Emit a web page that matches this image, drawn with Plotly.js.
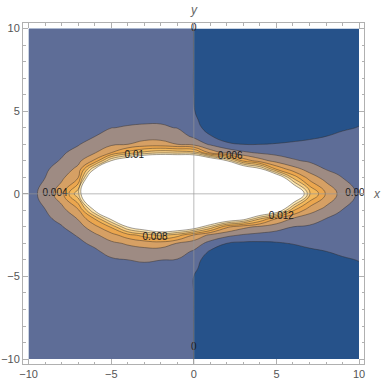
<!DOCTYPE html>
<html>
<head>
<meta charset="utf-8">
<script src="https://cdn.plot.ly/plotly-3.0.1.min.js"></script>
<style>
  html, body { margin: 0; padding: 0; background: #fff; }
  #chart { width: 382px; height: 381px; }
</style>
</head>
<body>
<div id="chart"></div>
<script>
// grid
var xVals = [-10, -9, -8, -7, -6, -5, -4, -3, -2, -1, 0, 1, 2, 3, 4, 5, 6, 7, 8, 9, 10];
var yVals = [-10, -8, -6, -5, -4.5, -4, -3.5, -3, -2.5, -2, -1.5, -1, 0, 1, 1.5, 2, 2.5, 3, 3.5, 4, 4.5, 5, 6, 8, 10];

// one row per y value, one entry per x value
var zVals = [
  [0.0005, 0.0005, 0.0005, 0.0005, 0.0005, 0.0005, 0.0005, 0.0005, 0.0005, 0.0005, -0.00001, -0.0015, -0.0015, -0.0015, -0.0015, -0.0015, -0.0015, -0.0015, -0.0015, -0.0015, -0.0015],
  [0.0006, 0.0005, 0.0005, 0.0005, 0.0005, 0.0005, 0.0005, 0.0005, 0.0005, 0.0005, -0.00001, -0.0015, -0.0015, -0.0015, -0.0015, -0.0015, -0.0015, -0.0015, -0.0015, -0.0015, -0.0015],
  [0.0007, 0.0006, 0.0006, 0.0006, 0.0006, 0.00062, 0.0008, 0.00083, 0.0008, 0.00071, -0.00001, -0.0015, -0.0015, -0.0015, -0.0015, -0.0015, -0.0015, -0.0015, -0.0015, -0.0015, -0.0008],
  [0.00075, 0.0006, 0.0006, 0.0006, 0.00086, 0.00122, 0.0014, 0.00143, 0.0014, 0.00131, -0.00001, -0.0015, -0.0015, -0.0015, -0.0015, -0.0015, -0.0015, -0.0015, -0.0015, -0.0008, -0.0004],
  [0.0008, 0.0006, 0.0006, 0.00083, 0.00116, 0.00152, 0.0017, 0.00173, 0.0017, 0.00161, 0.0005, -0.0015, -0.0015, -0.0015, -0.0015, -0.0015, -0.0015, -0.0015, -0.001, -0.0005, -0.00017],
  [0.00085, 0.0006, 0.00068, 0.00113, 0.00146, 0.00182, 0.00199, 0.00211, 0.00201, 0.00191, 0.00113, -0.0015, -0.0015, -0.0015, -0.0015, -0.0015, -0.0015, -0.001, -0.0005, -0.00014, 0.00004],
  [0.0009, 0.0006, 0.00098, 0.00143, 0.00176, 0.00244, 0.00305, 0.00322, 0.00318, 0.00278, 0.00175, -0.0003, -0.0015, -0.0015, -0.0015, -0.0015, -0.0009, -0.0003, -0.00002, 0.0002, 0.00025],
  [0.00095, 0.00074, 0.00128, 0.00173, 0.00227, 0.00356, 0.00424, 0.00479, 0.00494, 0.00389, 0.003, 0.00133, -0.00002, -0.0004, -0.0004, -0.0002, 0.0001, 0.0004, 0.0005, 0.00055, 0.00046],
  [0.001, 0.00104, 0.00158, 0.0021, 0.0036, 0.0052, 0.00713, 0.0088, 0.01046, 0.0089, 0.00582, 0.0035, 0.0025, 0.00178, 0.00145, 0.0012, 0.00105, 0.00107, 0.001, 0.0009, 0.00066],
  [0.00105, 0.00134, 0.00188, 0.0031, 0.0053, 0.00825, 0.0141, 0.017, 0.0193, 0.0185, 0.0163, 0.01156, 0.0064, 0.00456, 0.00356, 0.0028, 0.00199, 0.00173, 0.0015, 0.00124, 0.00087],
  [0.0011, 0.00164, 0.0025, 0.00414, 0.00813, 0.0148, 0.0215, 0.0245, 0.0268, 0.026, 0.0238, 0.0208, 0.0178, 0.0155, 0.01029, 0.00602, 0.00382, 0.003, 0.00199, 0.00159, 0.00108],
  [0.00115, 0.00194, 0.00333, 0.00557, 0.0142, 0.0223, 0.029, 0.03, 0.03, 0.03, 0.03, 0.0283, 0.0253, 0.023, 0.02, 0.017, 0.00829, 0.00469, 0.00333, 0.00193, 0.00129],
  [0.0012, 0.0027, 0.0052, 0.0115, 0.026, 0.03, 0.03, 0.03, 0.03, 0.03, 0.03, 0.03, 0.03, 0.03, 0.03, 0.03, 0.021, 0.0107, 0.0058, 0.0031, 0.0017],
  [0.00115, 0.00198, 0.00357, 0.00583, 0.0215, 0.029, 0.029, 0.03, 0.03, 0.03, 0.03, 0.03, 0.029, 0.026, 0.0223, 0.0178, 0.00928, 0.00496, 0.00323, 0.00196, 0.00129],
  [0.0011, 0.0017, 0.00286, 0.00452, 0.0141, 0.0215, 0.0253, 0.0268, 0.0275, 0.0275, 0.0275, 0.0245, 0.0215, 0.0185, 0.0148, 0.00766, 0.00483, 0.0032, 0.0019, 0.00161, 0.00108],
  [0.00105, 0.0014, 0.00214, 0.00345, 0.0064, 0.0141, 0.0178, 0.021, 0.022, 0.022, 0.022, 0.019, 0.0141, 0.00742, 0.00491, 0.00325, 0.00225, 0.00173, 0.00143, 0.00126, 0.00087],
  [0.001, 0.0011, 0.00176, 0.00255, 0.0038, 0.00588, 0.00859, 0.0105, 0.0115, 0.0112, 0.0108, 0.00525, 0.00333, 0.00233, 0.00167, 0.00138, 0.00118, 0.00107, 0.00095, 0.00091, 0.00066],
  [0.00095, 0.0008, 0.00146, 0.00188, 0.0028, 0.00365, 0.00398, 0.00467, 0.00472, 0.00399, 0.00333, 0.00169, 0.0005, -0.00002, -0.00002, 0.000125, 0.00027, 0.0004, 0.00048, 0.00056, 0.00046],
  [0.0009, 0.0006, 0.00116, 0.00158, 0.00194, 0.00278, 0.00305, 0.0032, 0.0032, 0.00289, 0.0016, 0.00015, -0.0015, -0.0015, -0.0015, -0.0011, -0.0006, -0.0003, -0.00002, 0.00021, 0.00025],
  [0.00085, 0.0006, 0.00086, 0.00128, 0.00164, 0.00197, 0.0021, 0.0022, 0.0022, 0.00194, 0.0013, -0.0014, -0.0015, -0.0015, -0.0015, -0.0015, -0.0015, -0.001, -0.0005, -0.00014, 0.00004],
  [0.0008, 0.0006, 0.0006, 0.00098, 0.00134, 0.00167, 0.00173, 0.00176, 0.00176, 0.00164, 0.0005, -0.0015, -0.0015, -0.0015, -0.0015, -0.0015, -0.0015, -0.0015, -0.001, -0.0005, -0.00017],
  [0.00075, 0.0006, 0.0006, 0.00068, 0.00104, 0.00137, 0.00143, 0.00146, 0.00146, 0.00134, 0.0001, -0.0015, -0.0015, -0.0015, -0.0015, -0.0015, -0.0015, -0.0015, -0.0015, -0.0008, -0.0004],
  [0.0007, 0.0006, 0.0006, 0.0006, 0.0006, 0.00077, 0.00083, 0.00086, 0.00086, 0.00074, -0.00001, -0.0015, -0.0015, -0.0015, -0.0015, -0.0015, -0.0015, -0.0015, -0.0015, -0.0015, -0.0008],
  [0.0006, 0.0005, 0.0005, 0.0005, 0.0005, 0.0005, 0.0005, 0.0005, 0.0005, 0.0005, -0.00001, -0.0015, -0.0015, -0.0015, -0.0015, -0.0015, -0.0015, -0.0015, -0.0015, -0.0015, -0.0015],
  [0.0005, 0.0005, 0.0005, 0.0005, 0.0005, 0.0005, 0.0005, 0.0005, 0.0005, 0.0005, -0.00001, -0.0015, -0.0015, -0.0015, -0.0015, -0.0015, -0.0015, -0.0015, -0.0015, -0.0015, -0.0015]
];

var levelLabels = ['0', '0', '0.01', '0.006', '0.008', '0.012', '0.004', '0.002'];
var tickVals = [-10, -5, 0, 5, 10];

var bandColors = ['#26528a', '#5e6d97', '#9e8b83', '#d6a064', '#eba64e', '#f3b85c', '#f8cf85', '#fce8b5', '#ffffff'];
var scale = bandColors.map(function(c, i) { return [i / (bandColors.length - 1), c]; });

var contour = {
    type: 'contour',
    x: xVals,
    y: yVals,
    z: zVals,
    autocontour: false,
    contours: { start: 0, end: 0.014, size: 0.002, coloring: 'fill', showlines: true },
    colorscale: scale,
    line: { color: 'rgba(50,45,40,0.5)', width: 0.9, smoothing: 1.3 },
    showscale: false,
    hoverinfo: 'skip'
};

// contour labels, placed where the original puts them
var labels = {
    type: 'scatter',
    mode: 'text',
    x: [0, 0, -3.6, 2.2, -2.35, 5.3, -8.4, 9.92],
    y: [10, -9.33, 2.35, 2.25, -2.65, -1.35, 0.05, 0],
    text: levelLabels,
    textfont: { family: 'Liberation Sans, Arial, sans-serif', size: 10, color: '#1a1a1a' },
    cliponaxis: true,
    hoverinfo: 'skip',
    showlegend: false
};

var frameAxis = {
    tickvals: tickVals,
    ticks: 'inside',
    ticklen: 5,
    tickcolor: '#b0b0b0',
    minor: { ticks: 'inside', ticklen: 2.5, dtick: 1, tickcolor: '#b0b0b0', showgrid: false },
    showline: true,
    mirror: 'ticks',
    linecolor: '#b0b0b0',
    linewidth: 1,
    showgrid: false,
    zeroline: false,
    tickfont: { family: 'Liberation Sans, Arial, sans-serif', size: 11, color: '#555' },
    fixedrange: true
};

var layout = {
    width: 382,
    height: 381,
    margin: { l: 23, r: 18, t: 23, b: 17 },
    paper_bgcolor: '#fff',
    plot_bgcolor: '#fff',
    showlegend: false,
    xaxis: Object.assign({}, frameAxis, { range: [-10.34, 10.3] }),
    yaxis: Object.assign({}, frameAxis, { range: [-10.3, 10.34] }),
    shapes: [
        { type: 'line', xref: 'paper', yref: 'y', x0: 0, x1: 1, y0: 0, y1: 0,
          line: { color: 'rgba(150,150,150,0.65)', width: 1 }, layer: 'above' },
        { type: 'line', xref: 'x', yref: 'paper', x0: 0, x1: 0, y0: 0, y1: 1,
          line: { color: 'rgba(150,150,150,0.65)', width: 1 }, layer: 'above' }
    ],
    annotations: [
        { text: '<i>x</i>', xref: 'paper', yref: 'y', x: 1, y: 0, xanchor: 'left', xshift: 7,
          showarrow: false, font: { family: 'Liberation Sans, Arial, sans-serif', size: 12, color: '#666' } },
        { text: '<i>y</i>', xref: 'x', yref: 'paper', x: 0, y: 1, yanchor: 'bottom', yshift: 4,
          showarrow: false, font: { family: 'Liberation Sans, Arial, sans-serif', size: 12, color: '#666' } }
    ]
};

Plotly.newPlot('chart', [contour, labels], layout, { displayModeBar: false, staticPlot: true });
</script>
</body>
</html>
